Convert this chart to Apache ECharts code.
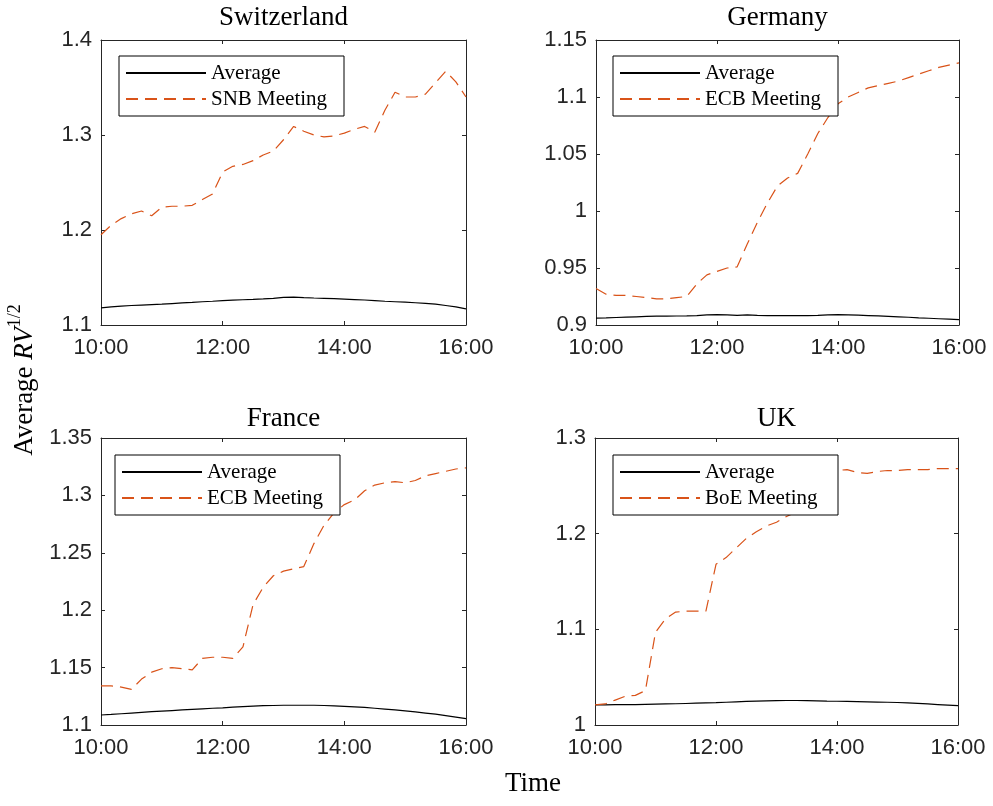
<!DOCTYPE html>
<html>
<head>
<meta charset="utf-8">
<script src="https://cdn.jsdelivr.net/npm/echarts@6/dist/echarts.min.js"></script>
<style>
html,body{margin:0;padding:0;background:#fff;}
#chart{width:993px;height:806px;}
</style>
</head>
<body>
<div id="chart"></div>
<script>
// ---- data ----
var times = ["10:00","10:10","10:20","10:30","10:40","10:50","11:00","11:10","11:20","11:30","11:40","11:50",
             "12:00","12:10","12:20","12:30","12:40","12:50","13:00","13:10","13:20","13:30","13:40","13:50",
             "14:00","14:10","14:20","14:30","14:40","14:50","15:00","15:10","15:20","15:30","15:40","15:50","16:00"];

var panelTitles = ["Switzerland", "Germany", "France", "UK"];
var meetingNames = ["SNB Meeting", "ECB Meeting", "ECB Meeting", "BoE Meeting"];

var swissMeeting = [1.195,1.205,1.212,1.217,1.220,1.215,1.224,1.225,1.225,1.226,1.232,1.238,1.261,1.267,1.269,1.273,1.279,1.283,1.295,1.309,1.304,1.300,1.298,1.299,1.302,1.306,1.309,1.303,1.326,1.345,1.340,1.340,1.343,1.355,1.367,1.356,1.340];
var swissAverage = [1.1180,1.1190,1.1198,1.1205,1.1210,1.1215,1.1220,1.1226,1.1232,1.1238,1.1245,1.1250,1.1256,1.1262,1.1266,1.1270,1.1275,1.1281,1.1290,1.1293,1.1288,1.1284,1.1281,1.1277,1.1273,1.1268,1.1263,1.1257,1.1250,1.1245,1.1240,1.1234,1.1228,1.1220,1.1205,1.1190,1.1170];

var germanyMeeting = [0.932,0.927,0.926,0.926,0.925,0.924,0.923,0.923,0.924,0.925,0.936,0.944,0.947,0.950,0.951,0.971,0.990,1.007,1.022,1.029,1.033,1.050,1.068,1.082,1.094,1.100,1.104,1.108,1.110,1.112,1.114,1.117,1.120,1.123,1.126,1.128,1.130];
var germanyAverage = [0.9061,0.9063,0.9066,0.9069,0.9072,0.9075,0.9077,0.9078,0.9079,0.9080,0.9083,0.9088,0.9091,0.9088,0.9085,0.9088,0.9084,0.9082,0.9082,0.9082,0.9082,0.9083,0.9085,0.9089,0.9091,0.9089,0.9086,0.9083,0.9080,0.9076,0.9072,0.9068,0.9063,0.9059,0.9055,0.9051,0.9047];

var franceMeeting = [1.134,1.134,1.133,1.131,1.140,1.146,1.149,1.150,1.149,1.148,1.158,1.159,1.159,1.158,1.168,1.205,1.220,1.230,1.234,1.236,1.238,1.258,1.274,1.285,1.292,1.296,1.304,1.309,1.311,1.312,1.311,1.313,1.317,1.319,1.321,1.323,1.324];
var franceAverage = [1.1087,1.1092,1.1098,1.1104,1.1110,1.1116,1.1121,1.1126,1.1131,1.1136,1.1141,1.1146,1.1150,1.1155,1.1160,1.1165,1.1168,1.1170,1.1172,1.1172,1.1172,1.1172,1.1170,1.1167,1.1163,1.1158,1.1153,1.1146,1.1139,1.1131,1.1123,1.1114,1.1104,1.1094,1.1082,1.1069,1.1055];

var ukMeeting = [1.021,1.022,1.026,1.030,1.031,1.036,1.097,1.111,1.118,1.119,1.119,1.119,1.168,1.175,1.185,1.195,1.202,1.208,1.212,1.218,1.223,1.232,1.245,1.258,1.266,1.267,1.264,1.263,1.265,1.266,1.266,1.267,1.267,1.267,1.268,1.268,1.268];
var ukAverage = [1.0210,1.0211,1.0212,1.0213,1.0214,1.0216,1.0218,1.0220,1.0222,1.0225,1.0228,1.0231,1.0234,1.0238,1.0242,1.0246,1.0250,1.0253,1.0255,1.0256,1.0256,1.0255,1.0253,1.0250,1.0248,1.0246,1.0244,1.0242,1.0240,1.0238,1.0235,1.0231,1.0226,1.0220,1.0214,1.0208,1.0202];

var yMins = [1.1, 0.9, 1.1, 1.0];
var yMaxs = [1.4, 1.15, 1.35, 1.3];
var yIntervals = [0.1, 0.05, 0.05, 0.1];

var meetingData = [swissMeeting, germanyMeeting, franceMeeting, ukMeeting];
var averageData = [swissAverage, germanyAverage, franceAverage, ukAverage];

// ---- layout ----
var grids = [
  {left:101, top:40, width:365, height:285},
  {left:596, top:40, width:363, height:285},
  {left:101, top:438, width:365, height:287},
  {left:595, top:438, width:363, height:287}
];
var legendPos = [
  {left:119, top:56},
  {left:613, top:56},
  {left:115, top:455},
  {left:613, top:455}
];
var titlePos = [[283.5,18],[777.5,18],[283.5,419],[776.5,419]];

var axisColor = '#262626';
var tickFont = 'Liberation Sans, Arial, sans-serif';
var serif = 'Liberation Serif, Times New Roman, serif';

var option = {
  backgroundColor:'#fff',
  animation:false,
  grid: grids.map(function(g){ return Object.assign({containLabel:false}, g); }),
  xAxis: [], yAxis: [], series: [], legend: [], graphic: []
};

for (var i = 0; i < 4; i++) {
  var common = {
    gridIndex:i, type:'category', data:times, boundaryGap:false,
    axisLine:{show:true, onZero:false, lineStyle:{color:axisColor, width:1}},
    axisTick:{show:true, inside:true, length:4, interval:11, lineStyle:{color:axisColor}},
    splitLine:{show:false}
  };
  option.xAxis.push(Object.assign({}, common, {
    position:'bottom',
    axisLabel:{show:true, interval:11, margin:12, fontSize:22, fontFamily:tickFont, color:axisColor}
  }));
  option.xAxis.push(Object.assign({}, common, {
    position:'top', axisLabel:{show:false}
  }));
  var ycommon = {
    gridIndex:i, type:'value', min:yMins[i], max:yMaxs[i], interval:yIntervals[i],
    axisLine:{show:true, onZero:false, lineStyle:{color:axisColor, width:1}},
    axisTick:{show:true, inside:true, length:4, lineStyle:{color:axisColor}},
    splitLine:{show:false}
  };
  option.yAxis.push(Object.assign({}, ycommon, {
    position:'left',
    axisLabel:{show:true, margin:9, fontSize:22, fontFamily:tickFont, color:axisColor}
  }));
  option.yAxis.push(Object.assign({}, ycommon, {
    position:'right', axisLabel:{show:false}
  }));

  option.series.push({
    name:'Average', type:'line', xAxisIndex:2*i, yAxisIndex:2*i,
    data:averageData[i], symbol:'none', showSymbol:false,
    lineStyle:{color:'#000', width:1.2}, itemStyle:{color:'#000'}
  });
  option.series.push({
    name:meetingNames[i], type:'line', xAxisIndex:2*i, yAxisIndex:2*i,
    data:meetingData[i], symbol:'none', showSymbol:false,
    lineStyle:{color:'#D95319', width:1.2, type:[12,7]}, itemStyle:{color:'#D95319'}
  });

  option.legend.push({
    left:legendPos[i].left, top:legendPos[i].top,
    orient:'vertical', itemWidth:80, itemHeight:14, itemGap:4,
    padding:[6,8,6,6],
    backgroundColor:'#fff', borderColor:'#000', borderWidth:1,
    data:[{name:'Average'},{name:meetingNames[i]}],
    itemStyle:{opacity:0, color:'rgba(0,0,0,0)', borderWidth:0},
    textStyle:{fontFamily:serif, fontSize:21, color:'#000', width:125, lineHeight:22},
    selectedMode:false
  });

  option.graphic.push({
    type:'text', x:titlePos[i][0], y:titlePos[i][1],
    style:{text:panelTitles[i], font:'27px ' + serif, fill:'#000', textAlign:'center', textVerticalAlign:'middle'}
  });
}

option.graphic.push({
  type:'text', x:533, y:784,
  style:{text:'Time', font:'27px ' + serif, fill:'#000', textAlign:'center', textVerticalAlign:'middle'}
});
option.graphic.push({
  type:'text', x:22, y:380, rotation:Math.PI/2,
  style:{
    text:'{a|Average }{b|RV}{c|1/2}',
    textAlign:'center', textVerticalAlign:'middle',
    rich:{
      a:{fontFamily:serif, fontSize:27, fill:'#000', lineHeight:32, verticalAlign:'bottom'},
      b:{fontFamily:serif, fontSize:27, fontStyle:'italic', fill:'#000', lineHeight:32, verticalAlign:'bottom'},
      c:{fontFamily:serif, fontSize:18, fill:'#000', lineHeight:32, verticalAlign:'top'}
    }
  }
});

var chart = echarts.init(document.getElementById('chart'), null, {renderer:'canvas'});
chart.setOption(option);
</script>
</body>
</html>
